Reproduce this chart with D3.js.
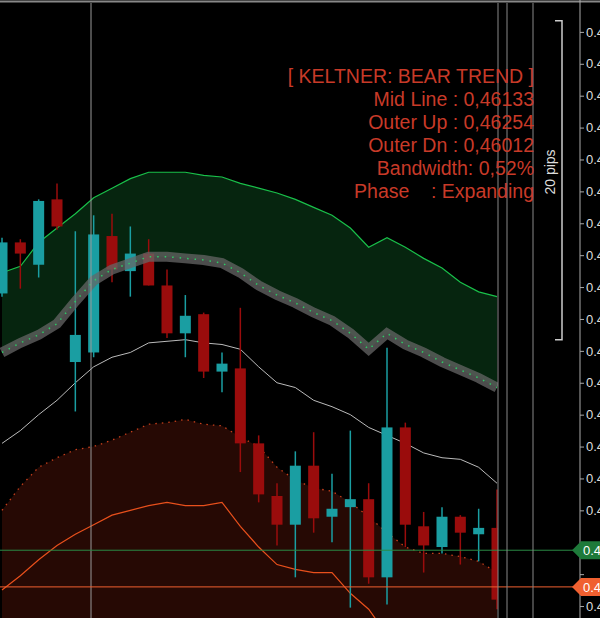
<!DOCTYPE html>
<html><head><meta charset="utf-8">
<script src="https://cdn.jsdelivr.net/npm/d3@7/dist/d3.min.js"></script>
<style>body{margin:0;background:#000}svg{display:block}</style>
</head><body>
<script>
const open_ = [.46116,.46148,.46134,.46175,.46073,.46079,.46152,.46130,.46141,.46121,.46091,.46103,.46067,.46069,.46022,.45989,.45971,.46008,.45976,.45982,.45987,.45938,.46032,.45970,.45957,.45976,.45965,.45969];
const high_ = [.46151,.46150,.46175,.46185,.46155,.46165,.46166,.46158,.46150,.46131,.46115,.46104,.46079,.46107,.46027,.45997,.46017,.46029,.46003,.46030,.45997,.46082,.46035,.45979,.45982,.45977,.45981,.45993];
const low_  = [.46114,.46119,.46126,.46156,.46042,.46076,.46123,.46114,.46121,.46088,.46076,.46063,.46054,.46004,.45985,.45958,.45938,.45966,.45960,.45919,.45934,.45921,.45957,.45941,.45953,.45946,.45948,.45918];
const close_= [.46148,.46141,.46174,.46158,.46090,.46153,.46131,.46141,.46121,.46091,.46102,.46067,.46072,.46022,.45990,.45971,.46008,.45975,.45981,.45987,.45938,.46032,.45971,.45958,.45976,.45966,.45969,.45924];
const upperBand = [.46129,.46133,.46148,.46157,.46166,.46176,.46182,.46188,.46192,.46192,.46192,.46190,.46189,.46185,.46182,.46179,.46175,.46170,.46165,.46157,.46145,.46151,.46145,.46138,.46132,.46123,.46117,.46114];
const midBand = [.46079,.46085,.46090,.46097,.46111,.46124,.46131,.46135,.46139,.46139,.46138,.46137,.46135,.46129,.46121,.46115,.46110,.46104,.46099,.46091,.46081,.46091,.46084,.46079,.46073,.46068,.46063,.46057];
const whiteLine = [.46022,.46030,.46040,.46049,.46060,.46070,.46076,.46079,.46085,.46086,.46087,.46085,.46084,.46081,.46070,.46060,.46057,.46049,.46045,.46040,.46032,.46027,.46022,.46016,.46013,.46012,.46007,.45997];
const lowerDotted = [.45980,.45995,.46007,.46013,.46018,.46020,.46024,.46029,.46034,.46035,.46037,.46034,.46033,.46026,.46020,.46007,.45999,.45994,.45992,.45985,.45976,.45966,.45957,.45953,.45953,.45951,.45948,.45941];
const lowerSolid = [.45930,.45939,.45949,.45958,.45965,.45971,.45977,.45980,.45983,.45985,.45983,.45983,.45985,.45970,.45957,.45946,.45943,.45941,.45941,.45928,.45918,.45902,.45889,.45880,.45867,.45861,.45855,.45849];
const tickValues = [.4628,.4626,.4624,.4622,.4620,.4618,.4616,.4614,.4612,.4610,.4608,.4606,.4604,.4602,.4600,.4598,.4596,.4594,.4592];
const greenLevel = 0.45955, orangeLevel = 0.45932;
const infoLines = ["[ KELTNER: BEAR TREND ]","Mid Line : 0,46133","Outer Up : 0,46254","Outer Dn : 0,46012","Bandwidth: 0,52%","Phase    : Expanding"];

const W=600,H=618;
const svg=d3.select("body").append("svg").attr("width",W).attr("height",H).style("background","#000");
const idx=d3.range(open_.length);
const x=d3.scaleLinear().domain([0,27]).range([2,497]);
const y=d3.scaleLinear().domain([0.459125,0.46300]).range([H,0]);
svg.append("clipPath").attr("id","c").append("rect").attr("x",0).attr("y",3).attr("width",498).attr("height",H);
const g=svg.append("g").attr("clip-path","url(#c)");

g.append("path").datum(idx).attr("fill","#260904")
 .attr("d",d3.area().x(i=>x(i)).y0(H+20).y1(i=>y(lowerDotted[i])));
g.append("path").datum(idx).attr("fill","#06250f")
 .attr("d",d3.area().x(i=>x(i)).y0(i=>y(midBand[i])).y1(i=>y(upperBand[i])));
const line=arr=>d3.line().x(i=>x(i)).y(i=>y(arr[i]));
g.append("path").datum(idx).attr("fill","none").attr("stroke","#19c04a").attr("stroke-width",1.2).attr("d",line(upperBand));
g.append("path").datum(idx).attr("fill","none").attr("stroke","#bbb").attr("stroke-width",1).attr("d",line(whiteLine));
g.append("path").datum(idx).attr("fill","none").attr("stroke","#c8401c").attr("stroke-width",1.3).attr("stroke-dasharray","1.5,5").attr("d",line(lowerDotted));
g.append("path").datum(idx).attr("fill","none").attr("stroke","#e8501c").attr("stroke-width",1.2).attr("d",line(lowerSolid));

svg.append("line").attr("x1",91).attr("x2",91).attr("y1",3).attr("y2",H).attr("stroke","#999");

const cg=g.append("g");
idx.forEach(i=>{
  const up=close_[i]>=open_[i], col=up?"#1a9ea2":"#9a0c0c";
  cg.append("line").attr("x1",x(i)).attr("x2",x(i)).attr("y1",y(high_[i])).attr("y2",y(low_[i])).attr("stroke",col).attr("stroke-width",1.5);
  const t=y(Math.max(open_[i],close_[i])), b=y(Math.min(open_[i],close_[i]));
  cg.append("rect").attr("x",x(i)-5.5).attr("width",11).attr("y",t).attr("height",Math.max(2,b-t)).attr("fill",col);
});
g.append("path").datum(idx).attr("fill","none").attr("stroke","#666").attr("stroke-opacity",0.75).attr("stroke-width",10).attr("d",line(midBand));
g.append("path").datum(idx).attr("fill","none").attr("stroke","#2ecc66").attr("stroke-width",1.5).attr("stroke-dasharray","1.5,6").attr("d",line(midBand));

svg.append("line").attr("x1",0).attr("x2",580).attr("y1",y(greenLevel)).attr("y2",y(greenLevel)).attr("stroke","#2a8a45");
svg.append("line").attr("x1",0).attr("x2",580).attr("y1",y(orangeLevel)).attr("y2",y(orangeLevel)).attr("stroke","#f06030");

[498,507,533].forEach(v=>svg.append("line").attr("x1",v).attr("x2",v).attr("y1",3).attr("y2",H).attr("stroke","#888"));
svg.append("line").attr("x1",0).attr("x2",W).attr("y1",1.5).attr("y2",1.5).attr("stroke","#888").attr("stroke-width",2);
svg.append("line").attr("x1",580).attr("x2",580).attr("y1",0).attr("y2",H).attr("stroke","#aaa");

const ax=svg.append("g").attr("transform","translate(580,0)").call(d3.axisRight(y).tickValues(tickValues).tickSize(4).tickFormat(d3.format(".5f")));
ax.select(".domain").remove();
ax.selectAll("line").attr("stroke","#aaa");
ax.selectAll("text").attr("fill","#ddd").attr("font-family","Liberation Sans, Arial").attr("font-size",13).attr("x",6)
  .attr("display",d=>(Math.abs(y(d)-y(greenLevel))<14||Math.abs(y(d)-y(orangeLevel))<14)?"none":null);

[[greenLevel,"#1e7a3a"],[orangeLevel,"#f06030"]].forEach(([v,c])=>{
  const yy=y(v);
  svg.append("path").attr("d",`M572,${yy} L581,${yy-9} L600,${yy-9} L600,${yy+9} L581,${yy+9} Z`).attr("fill",c);
  svg.append("text").attr("x",583).attr("y",yy+5).text(d3.format(".5f")(v)).attr("fill","#fff").attr("font-family","Liberation Sans, Arial").attr("font-size",13);
});

infoLines.forEach((t,k)=>svg.append("text").attr("x",534).attr("y",83+k*23).attr("text-anchor","end")
  .attr("fill","#c83a28").attr("font-family","Liberation Sans, Arial").attr("font-size",19.5).style("white-space","pre").text(t));

const p0=y(0.46300-0.00013), p1=p0+(y(0.4600)-y(0.4620));
svg.append("path").attr("d",`M555,${p0} L562,${p0} L562,${p1} L555,${p1}`).attr("fill","none").attr("stroke","#ccc").attr("stroke-width",1.5);
svg.append("text").attr("transform",`translate(555,172) rotate(-90)`).attr("text-anchor","middle").attr("fill","#ddd")
 .attr("font-family","Liberation Sans, Arial").attr("font-size",14).text("20 pips");
</script>
</body></html>
